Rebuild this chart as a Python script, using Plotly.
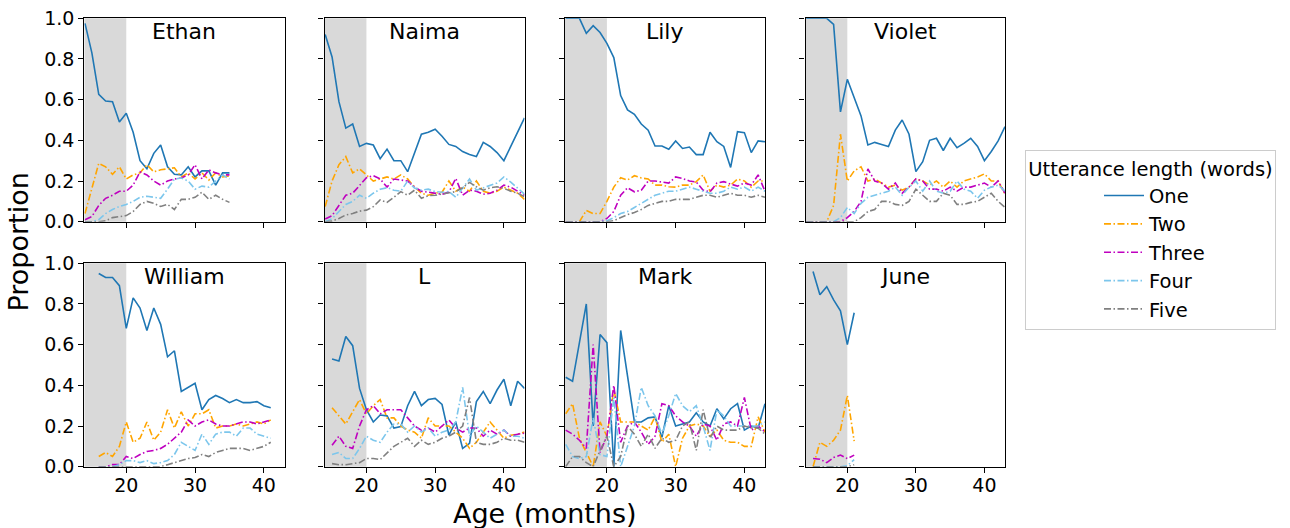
import plotly.graph_objects as go

# ---- series data: proportion of utterances of each length, by age in months ----
length_names = ["One", "Two", "Three", "Four", "Five"]
length_colors = ["#1f77b4", "#ffa500", "#bf00bf", "#7cc6ec", "#808080"]
length_dashes = ["solid", "7px,2.5px,1.5px,2.5px", "7px,2.5px,1.5px,2.5px",
                 "7px,2.5px,1.5px,2.5px", "7px,2.5px,1.5px,2.5px"]

ethan_ages = list(range(14, 36))
ethan_one = [0.975, 0.83, 0.626, 0.593, 0.59, 0.49, 0.533, 0.44, 0.30, 0.26, 0.336,
             0.377, 0.27, 0.233, 0.23, 0.27, 0.22, 0.25, 0.25, 0.18, 0.24, 0.24]
ethan_two = [0.04, 0.17, 0.287, 0.27, 0.233, 0.27, 0.21, 0.23, 0.24, 0.28, 0.245,
             0.255, 0.26, 0.265, 0.22, 0.24, 0.21, 0.24, 0.205, 0.24, 0.22, 0.225]
ethan_three = [0.01, 0.025, 0.08, 0.115, 0.13, 0.15, 0.15, 0.18, 0.245, 0.23, 0.2,
               0.18, 0.2, 0.21, 0.215, 0.23, 0.28, 0.21, 0.255, 0.24, 0.23, 0.23]
ethan_four = [0.0, 0.0, 0.01, 0.04, 0.06, 0.075, 0.085, 0.1, 0.12, 0.125, 0.12,
              0.115, 0.16, 0.21, 0.215, 0.2, 0.16, 0.175, 0.17, 0.2, 0.23, 0.21]
ethan_five = [0.0, 0.0, 0.0, 0.005, 0.02, 0.025, 0.03, 0.05, 0.085, 0.1, 0.09,
              0.075, 0.085, 0.06, 0.11, 0.11, 0.12, 0.145, 0.11, 0.13, 0.11, 0.095]

naima_ages = list(range(14, 44))
naima_one = [0.92, 0.81, 0.59, 0.46, 0.48, 0.37, 0.385, 0.377, 0.31, 0.357, 0.3, 0.3,
             0.246, 0.34, 0.43, 0.44, 0.455, 0.42, 0.38, 0.37, 0.345, 0.33, 0.32, 0.39,
             0.37, 0.34, 0.3, 0.37, 0.44, 0.51]
naima_two = [0.075, 0.2, 0.28, 0.32, 0.24, 0.26, 0.23, 0.2, 0.21, 0.22, 0.21, 0.23,
             0.21, 0.17, 0.14, 0.13, 0.14, 0.145, 0.2, 0.15, 0.17, 0.15, 0.2, 0.15,
             0.14, 0.15, 0.17, 0.155, 0.14, 0.11]
naima_three = [0.013, 0.03, 0.08, 0.13, 0.14, 0.18, 0.216, 0.226, 0.21, 0.17, 0.21,
               0.205, 0.2, 0.17, 0.15, 0.145, 0.14, 0.135, 0.145, 0.213, 0.13, 0.155,
               0.15, 0.135, 0.14, 0.155, 0.18, 0.17, 0.15, 0.13]
naima_four = [0.0, 0.015, 0.05, 0.085, 0.1, 0.13, 0.115, 0.14, 0.16, 0.167, 0.155,
              0.15, 0.2, 0.165, 0.155, 0.16, 0.148, 0.145, 0.148, 0.12, 0.165, 0.21,
              0.155, 0.167, 0.177, 0.19, 0.22, 0.195, 0.165, 0.135]
naima_five = [0.0, 0.003, 0.016, 0.033, 0.04, 0.052, 0.057, 0.074, 0.107, 0.095, 0.12,
              0.148, 0.13, 0.155, 0.115, 0.128, 0.13, 0.135, 0.14, 0.148, 0.167, 0.193,
              0.172, 0.155, 0.167, 0.172, 0.164, 0.15, 0.14, 0.123]

lily_ages = list(range(14, 44))
lily_one = [1.0, 1.0, 1.0, 0.926, 0.964, 0.93, 0.877, 0.807, 0.62, 0.55, 0.528, 0.48,
            0.45, 0.372, 0.372, 0.356, 0.397, 0.36, 0.367, 0.33, 0.33, 0.44, 0.393,
            0.37, 0.267, 0.443, 0.438, 0.34, 0.397, 0.393]
lily_two = [0.0, 0.0, 0.0, 0.055, 0.04, 0.04, 0.1, 0.17, 0.216, 0.205, 0.226, 0.215,
            0.21, 0.18, 0.18, 0.172, 0.17, 0.18, 0.18, 0.197, 0.23, 0.15, 0.18, 0.17,
            0.18, 0.21, 0.2, 0.17, 0.2, 0.2]
lily_three = [0.0, 0.0, 0.0, 0.0, 0.0, 0.0, 0.016, 0.05, 0.13, 0.167, 0.147, 0.155,
              0.2, 0.2, 0.195, 0.19, 0.22, 0.213, 0.2, 0.195, 0.155, 0.147, 0.19, 0.197,
              0.185, 0.175, 0.19, 0.18, 0.23, 0.15]
lily_four = [0.0, 0.0, 0.0, 0.0, 0.0, 0.0, 0.005, 0.02, 0.04, 0.05, 0.07, 0.09, 0.11,
             0.13, 0.14, 0.15, 0.15, 0.16, 0.17, 0.16, 0.15, 0.14, 0.14, 0.15, 0.17,
             0.16, 0.17, 0.15, 0.17, 0.15]
lily_five = [0.0, 0.0, 0.0, 0.0, 0.0, 0.0, 0.0, 0.005, 0.02, 0.035, 0.045, 0.06, 0.08,
             0.09, 0.1, 0.1, 0.11, 0.11, 0.11, 0.12, 0.13, 0.13, 0.12, 0.13, 0.14, 0.13,
             0.13, 0.12, 0.13, 0.12]

violet_ages = list(range(14, 44))
violet_one = [1.0, 1.0, 1.0, 1.0, 0.97, 0.54, 0.7, 0.61, 0.52, 0.377, 0.39, 0.38, 0.37,
              0.45, 0.5, 0.43, 0.246, 0.295, 0.4, 0.41, 0.35, 0.41, 0.364, 0.385, 0.41,
              0.37, 0.3, 0.345, 0.397, 0.467]
violet_two = [0.0, 0.0, 0.0, 0.0, 0.08, 0.43, 0.2, 0.25, 0.27, 0.2, 0.21, 0.19, 0.17,
              0.18, 0.155, 0.17, 0.21, 0.2, 0.18, 0.2, 0.17, 0.2, 0.17, 0.2, 0.21, 0.22,
              0.235, 0.2, 0.2, 0.135]
violet_three = [0.0, 0.0, 0.0, 0.0, 0.0, 0.0, 0.02, 0.05, 0.1, 0.26, 0.2, 0.19, 0.16,
                0.19, 0.14, 0.17, 0.21, 0.2, 0.16, 0.16, 0.15, 0.17, 0.15, 0.17, 0.17,
                0.18, 0.19, 0.17, 0.2, 0.14]
violet_four = [0.0, 0.0, 0.0, 0.0, 0.0, 0.02, 0.07, 0.04, 0.09, 0.12, 0.13, 0.14, 0.15,
               0.17, 0.13, 0.17, 0.2, 0.15, 0.2, 0.15, 0.14, 0.15, 0.2, 0.16, 0.15, 0.115,
               0.155, 0.17, 0.18, 0.15]
violet_five = [0.0, 0.0, 0.0, 0.0, 0.0, 0.0, 0.0, 0.0, 0.02, 0.05, 0.06, 0.1, 0.1,
               0.085, 0.08, 0.1, 0.16, 0.13, 0.1, 0.1, 0.14, 0.13, 0.085, 0.085, 0.095,
               0.1, 0.12, 0.14, 0.1, 0.07]

william_ages = list(range(16, 42))
william_one = [0.95, 0.93, 0.93, 0.89, 0.68, 0.83, 0.78, 0.67, 0.78, 0.7, 0.54, 0.57,
               0.37, 0.39, 0.41, 0.28, 0.33, 0.35, 0.335, 0.315, 0.33, 0.315, 0.315,
               0.32, 0.3, 0.29]
william_two = [0.05, 0.07, 0.05, 0.1, 0.22, 0.12, 0.14, 0.22, 0.13, 0.17, 0.28, 0.19,
               0.27, 0.2, 0.26, 0.26, 0.28, 0.19, 0.2, 0.2, 0.21, 0.2, 0.21, 0.22, 0.21,
               0.23]
william_three = [0.0, 0.0, 0.01, 0.01, 0.05, 0.04, 0.06, 0.075, 0.08, 0.09, 0.11, 0.14,
                 0.17, 0.23, 0.2, 0.22, 0.23, 0.21, 0.2, 0.2, 0.21, 0.22, 0.22, 0.21,
                 0.22, 0.23]
william_four = [0.0, 0.0, 0.0, 0.01, 0.03, 0.03, 0.02, 0.03, 0.015, 0.02, 0.03, 0.06,
                0.12, 0.1, 0.08, 0.16, 0.11, 0.16, 0.17, 0.17, 0.15, 0.19, 0.19, 0.16,
                0.15, 0.14]
william_five = [0.0, 0.0, 0.0, 0.0, 0.0, 0.0, 0.0, 0.0, 0.0, 0.0, 0.01, 0.02, 0.03, 0.04,
                0.045, 0.06, 0.05, 0.07, 0.08, 0.09, 0.09, 0.09, 0.08, 0.09, 0.1, 0.12]

l_ages = list(range(15, 44))
l_one = [0.53, 0.52, 0.64, 0.595, 0.385, 0.28, 0.22, 0.254, 0.25, 0.19, 0.197, 0.3,
         0.37, 0.3, 0.33, 0.336, 0.306, 0.155, 0.22, 0.09, 0.115, 0.32, 0.37, 0.31,
         0.377, 0.43, 0.3, 0.42, 0.385]
l_two = [0.29, 0.25, 0.21, 0.27, 0.33, 0.26, 0.3, 0.33, 0.24, 0.24, 0.2, 0.18, 0.17,
         0.14, 0.24, 0.2, 0.2, 0.2, 0.17, 0.14, 0.09, 0.12, 0.17, 0.22, 0.18, 0.14,
         0.155, 0.16, 0.17]
l_three = [0.105, 0.15, 0.1, 0.09, 0.2, 0.28, 0.3, 0.26, 0.28, 0.28, 0.28, 0.24, 0.2,
           0.18, 0.19, 0.17, 0.2, 0.23, 0.19, 0.17, 0.19, 0.19, 0.15, 0.18, 0.16, 0.18,
           0.15, 0.16, 0.165]
l_four = [0.06, 0.07, 0.04, 0.04, 0.09, 0.15, 0.13, 0.12, 0.17, 0.21, 0.21, 0.17, 0.2,
          0.17, 0.19, 0.15, 0.17, 0.18, 0.22, 0.39, 0.15, 0.2, 0.17, 0.14, 0.16, 0.18,
          0.15, 0.15, 0.14]
l_five = [0.015, 0.01, 0.01, 0.015, 0.02, 0.04, 0.04, 0.035, 0.07, 0.1, 0.12, 0.14,
          0.1, 0.13, 0.11, 0.12, 0.14, 0.15, 0.17, 0.2, 0.34, 0.12, 0.11, 0.11, 0.12,
          0.14, 0.13, 0.13, 0.12]

mark_ages = list(range(14, 44))
mark_one = [0.44, 0.42, 0.61, 0.8, 0.2, 0.65, 0.61, 0.0, 0.67, 0.44, 0.22, 0.22, 0.24,
            0.245, 0.145, 0.3, 0.2, 0.21, 0.22, 0.265, 0.22, 0.2, 0.285, 0.235, 0.285,
            0.31, 0.18, 0.2, 0.19, 0.31]
mark_two = [0.26, 0.31, 0.14, 0.07, 0.0, 0.22, 0.15, 0.38, 0.22, 0.22, 0.22, 0.2, 0.18,
            0.245, 0.12, 0.16, 0.0, 0.14, 0.2, 0.21, 0.2, 0.15, 0.18, 0.13, 0.12, 0.12,
            0.1, 0.1, 0.245, 0.17]
mark_three = [0.18, 0.16, 0.13, 0.09, 0.6, 0.07, 0.15, 0.4, 0.12, 0.2, 0.22, 0.17, 0.11,
              0.15, 0.31, 0.3, 0.25, 0.22, 0.2, 0.15, 0.21, 0.2, 0.13, 0.21, 0.22, 0.2,
              0.34, 0.18, 0.2, 0.17]
mark_four = [0.11, 0.05, 0.04, 0.05, 0.24, 0.06, 0.05, 0.34, 0.0, 0.1, 0.2, 0.39, 0.3,
             0.25, 0.16, 0.25, 0.36, 0.3, 0.27, 0.3, 0.2, 0.08, 0.28, 0.25, 0.2, 0.2,
             0.2, 0.2, 0.2, 0.22]
mark_five = [0.0, 0.05, 0.05, 0.02, 0.0, 0.08, 0.15, 0.0, 0.05, 0.2, 0.16, 0.1, 0.16,
             0.09, 0.14, 0.12, 0.13, 0.2, 0.22, 0.08, 0.28, 0.14, 0.2, 0.18, 0.18, 0.18,
             0.2, 0.19, 0.19, 0.16]

june_ages = list(range(15, 22))
june_one = [0.96, 0.845, 0.885, 0.82, 0.766, 0.6, 0.757]
june_two = [0.0, 0.12, 0.1, 0.13, 0.18, 0.35, 0.126]
june_three = [0.04, 0.037, 0.02, 0.045, 0.057, 0.04, 0.057]
june_four = [0.0, 0.0, 0.0, 0.0, 0.0, 0.005, 0.035]
june_five = [0.0, 0.0, 0.0, 0.0, 0.0, 0.0, 0.01]

children = [
    ("Ethan", ethan_ages, [ethan_one, ethan_two, ethan_three, ethan_four, ethan_five]),
    ("Naima", naima_ages, [naima_one, naima_two, naima_three, naima_four, naima_five]),
    ("Lily", lily_ages, [lily_one, lily_two, lily_three, lily_four, lily_five]),
    ("Violet", violet_ages, [violet_one, violet_two, violet_three, violet_four, violet_five]),
    ("William", william_ages, [william_one, william_two, william_three, william_four, william_five]),
    ("L", l_ages, [l_one, l_two, l_three, l_four, l_five]),
    ("Mark", mark_ages, [mark_one, mark_two, mark_three, mark_four, mark_five]),
    ("June", june_ages, [june_one, june_two, june_three, june_four, june_five]),
]

x_ticks = [20, 30, 40]
y_ticks = [0.0, 0.2, 0.4, 0.6, 0.8, 1.0]
y_tick_text = ["0.0", "0.2", "0.4", "0.6", "0.8", "1.0"]
shade_end = 20
x_range = [13.9, 43.0]

# ---- figure geometry (pixels) ----
W, H = 1290, 528
col_px = [(84.3, 284.5), (324.5, 524.5), (565.0, 765.0), (805.5, 1005.0)]
row_px = [(18.3, 221.7), (263.3, 466.7)]

fig = go.Figure()
layout = dict(
    width=W, height=H,
    margin=dict(l=0, r=0, t=0, b=0, autoexpand=False),
    paper_bgcolor="white", plot_bgcolor="white",
    font=dict(family="DejaVu Sans", color="black", size=19),
    shapes=[], annotations=[],
)

axis_common = dict(
    ticks="outside", ticklen=5, tickwidth=1.2, tickcolor="black",
    showline=True, linecolor="black", linewidth=1.3, mirror=True,
    showgrid=False, zeroline=False, tickfont=dict(size=19), automargin=False,
)

for i, (name, ages, series) in enumerate(children):
    r, c = divmod(i, 4)
    k = i + 1
    xa = "x" if k == 1 else f"x{k}"
    ya = "y" if k == 1 else f"y{k}"
    x0, x1 = col_px[c]
    y0, y1 = row_px[r]
    layout["xaxis" if k == 1 else f"xaxis{k}"] = dict(
        domain=[x0 / W, x1 / W], anchor=ya, range=x_range,
        tickvals=x_ticks, showticklabels=(r == 1), ticklabelstandoff=-4,
        **axis_common,
    )
    layout["yaxis" if k == 1 else f"yaxis{k}"] = dict(
        domain=[1 - y1 / H, 1 - y0 / H], anchor=xa, range=[0, 1],
        tickvals=y_ticks, ticktext=y_tick_text, showticklabels=(c == 0),
        **axis_common,
    )
    # grey band for the early-age window
    layout["shapes"].append(dict(
        type="rect", xref=xa, yref=f"{ya} domain", x0=x_range[0], x1=shade_end,
        y0=0, y1=1, fillcolor="#d9d9d9", line=dict(width=0), layer="below",
    ))
    layout["annotations"].append(dict(
        text=name, xref="paper", yref="paper", x=(x0 + x1) / 2 / W, y=1 - y0 / H,
        xanchor="center", yanchor="top", yshift=1, showarrow=False,
        font=dict(size=22),
    ))
    for j, vals in enumerate(series):
        fig.add_trace(go.Scatter(
            x=ages, y=vals, mode="lines", xaxis=xa, yaxis=ya,
            name=length_names[j], showlegend=(i == 0),
            line=dict(color=length_colors[j], width=1.6, dash=length_dashes[j]),
        ))

layout["annotations"].append(dict(
    text="Proportion", xref="paper", yref="paper", x=18 / W, y=1 - 242.5 / H,
    xanchor="center", yanchor="middle", textangle=-90, showarrow=False,
    font=dict(size=27),
))
layout["annotations"].append(dict(
    text="Age (months)", xref="paper", yref="paper", x=544.5 / W, y=1 - 513 / H,
    xanchor="center", yanchor="middle", showarrow=False, font=dict(size=27),
))
layout["legend"] = dict(
    x=1025 / W, y=1 - 150 / H, xanchor="left", yanchor="top",
    bgcolor="white", bordercolor="#cccccc", borderwidth=1,
    font=dict(size=19.5), itemwidth=40, indentation=73, tracegroupgap=0,
    title=dict(text="Utterance length (words)", side="top center", font=dict(size=19.5)),
)

fig.update_layout(**layout)
fig.write_html("out.html")
